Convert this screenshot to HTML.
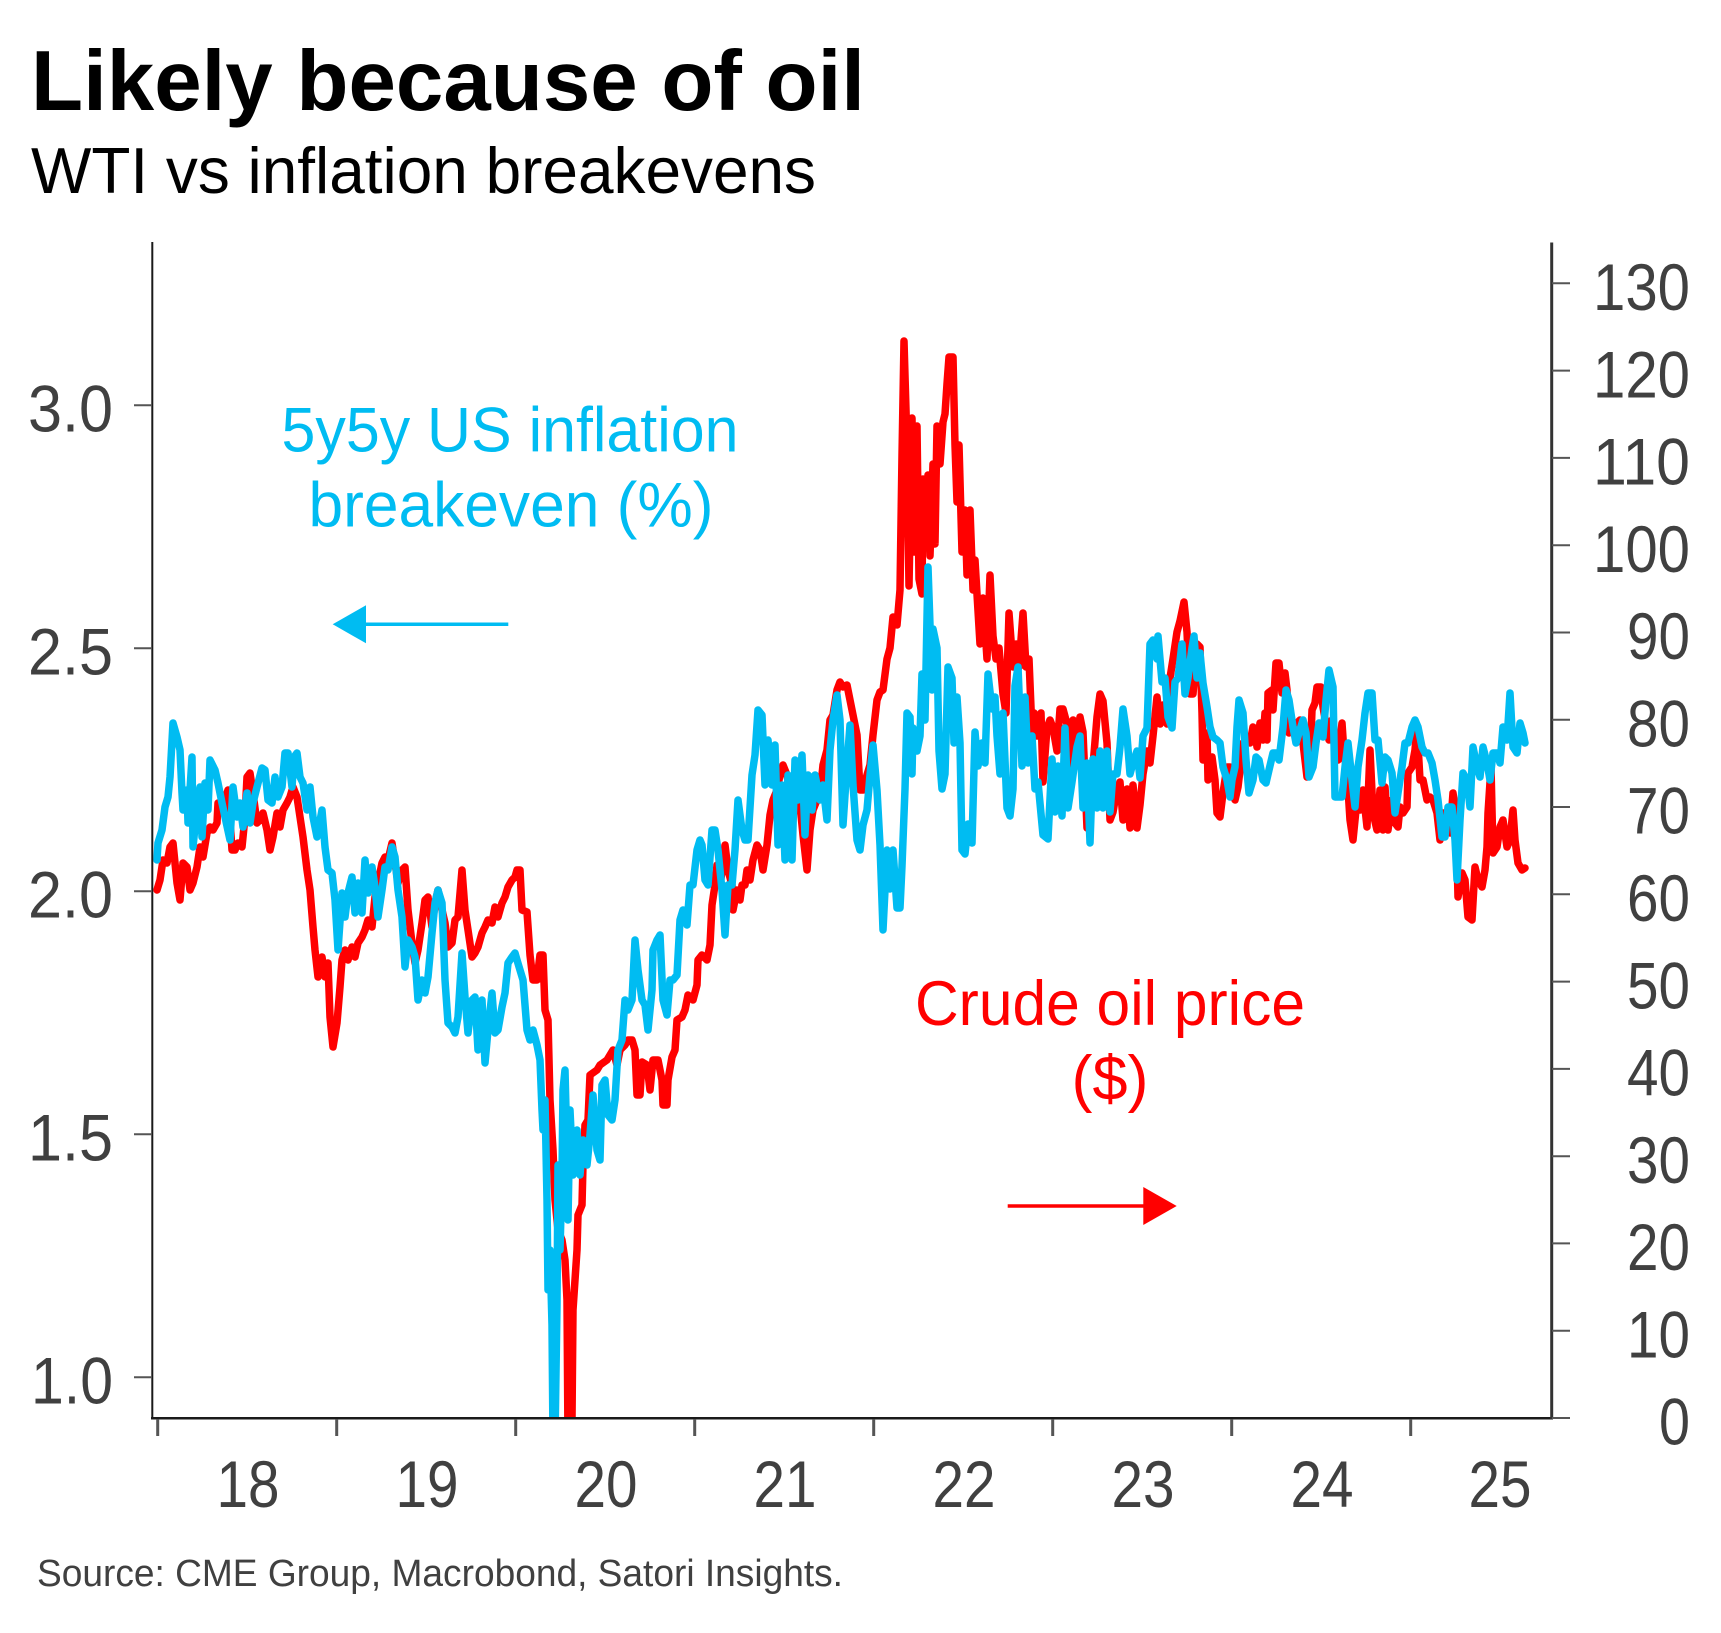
<!DOCTYPE html>
<html>
<head>
<meta charset="utf-8">
<style>
html,body{margin:0;padding:0;background:#fff;}
svg{display:block;}
text{font-family:"Liberation Sans",sans-serif;}
</style>
</head>
<body>
<svg width="1721" height="1633" viewBox="0 0 1721 1633" xmlns="http://www.w3.org/2000/svg">
<rect x="0" y="0" width="1721" height="1633" fill="#fff"/>
<defs>
<clipPath id="plot"><rect x="152" y="242" width="1400" height="1176"/></clipPath>
</defs>

<!-- Titles -->
<text x="31" y="110" font-size="85" font-weight="bold" fill="#000" textLength="834" lengthAdjust="spacingAndGlyphs">Likely because of oil</text>
<text x="31" y="193" font-size="65" fill="#000" textLength="785" lengthAdjust="spacingAndGlyphs">WTI vs inflation breakevens</text>

<!-- Series -->
<g clip-path="url(#plot)" fill="none" stroke-width="7.5" stroke-linejoin="round" stroke-linecap="round">
<polyline stroke="#FF0000" points="157,890 160,880 163,860 167,863 170,847 173,843 177,883 180,900 183,863 187,867 190,890 193,883 197,867 200,847 203,857 207,833 210,827 213,830 217,823 218,803 222,807 225,800 228,790 232,850 235,850 238,843 242,847 245,817 247,777 250,773 253,793 257,823 260,820 263,813 267,830 270,850 273,837 277,813 280,827 283,810 287,803 290,797 293,787 297,797 300,817 303,837 307,870 310,890 313,927 315,950 318,977 322,957 325,977 328,963 330,1017 333,1047 337,1023 340,987 342,960 345,950 348,960 352,947 355,957 358,943 362,937 365,930 368,920 372,927 375,897 378,883 382,863 385,857 388,860 392,843 395,863 398,883 402,870 405,867 408,910 412,943 415,963 418,950 422,923 425,900 428,897 432,927 435,903 438,890 442,910 445,923 448,947 452,943 455,920 458,917 462,870 465,910 468,930 472,957 475,953 478,947 482,933 485,927 488,920 492,923 495,907 498,917 502,903 505,897 508,887 512,880 515,877 517,870 520,870 522,910 527,912 530,955 533,980 537,980 540,955 543,955 545,1010 548,1020 550,1100 553,1150 555,1200 558,1230 562,1240 565,1260 567,1300 568,1440 571,1440 572,1420 573,1310 577,1250 578,1215 582,1205 583,1165 585,1125 588,1120 590,1075 597,1070 600,1065 607,1060 613,1050 617,1065 620,1050 625,1045 628,1040 632,1040 635,1050 637,1095 640,1095 642,1062 647,1065 650,1090 653,1060 658,1060 662,1080 663,1105 667,1105 668,1080 672,1057 675,1050 677,1020 682,1017 685,1010 688,995 693,1000 697,985 698,960 702,955 707,960 710,945 712,905 715,885 717,865 720,885 723,865 725,845 728,870 732,885 733,910 737,890 740,900 742,885 745,885 747,870 750,880 753,860 757,845 760,850 763,870 767,845 770,815 773,800 777,790 780,775 783,765 787,775 790,795 793,815 797,800 800,805 803,835 807,870 810,830 813,810 817,800 820,795 823,765 827,750 830,720 833,715 837,690 840,682 843,687 847,685 850,700 853,715 857,735 860,790 863,790 867,775 870,765 873,735 877,700 880,692 883,690 887,659 890,648 893,617 897,625 900,590 902,456 904,341 907,445 909,586 912,418 914,552 917,426 919,579 922,594 923,479 926,540 928,475 930,556 933,464 935,544 937,426 940,464 943,422 945,414 947,384 949,357 953,357 955,445 957,502 959,445 962,552 965,510 967,575 970,510 973,590 975,560 977,594 980,644 983,598 987,659 990,575 993,636 996,659 999,648 1003,694 1006,713 1009,613 1013,667 1016,644 1019,667 1023,613 1026,667 1029,659 1032,732 1034,713 1037,736 1041,713 1043,782 1047,728 1050,720 1053,728 1057,751 1060,709 1063,709 1067,724 1070,774 1073,720 1077,743 1080,717 1083,732 1087,828 1090,801 1093,766 1097,717 1100,694 1103,701 1107,743 1110,820 1113,812 1117,789 1120,782 1123,820 1127,789 1130,828 1133,785 1137,828 1140,805 1143,774 1147,751 1150,763 1153,736 1157,697 1160,724 1163,705 1167,724 1170,678 1173,659 1177,632 1180,621 1184,602 1187,632 1190,694 1193,694 1197,644 1200,647 1202,713 1203,760 1207,733 1208,780 1212,757 1215,780 1217,813 1220,817 1223,793 1227,767 1230,767 1232,787 1235,800 1238,787 1240,770 1243,743 1247,740 1250,743 1253,727 1255,730 1257,747 1260,723 1263,740 1265,713 1267,740 1268,693 1272,690 1273,710 1276,663 1279,663 1282,693 1285,673 1287,690 1289,733 1293,723 1297,723 1300,720 1303,743 1307,777 1310,763 1312,710 1315,703 1317,687 1321,687 1323,707 1327,730 1329,740 1332,720 1335,753 1338,760 1342,723 1344,753 1347,773 1350,820 1353,840 1357,800 1360,810 1363,790 1367,827 1370,750 1373,813 1377,830 1380,790 1383,830 1385,787 1388,830 1392,800 1395,823 1398,827 1400,807 1403,813 1407,807 1408,773 1412,767 1415,750 1417,727 1420,780 1423,780 1427,800 1430,797 1433,800 1437,813 1440,840 1443,813 1447,813 1450,833 1453,793 1456,813 1458,897 1462,873 1465,880 1468,917 1472,920 1475,867 1478,880 1482,887 1485,870 1487,847 1488,813 1491,767 1493,853 1497,847 1500,827 1503,820 1507,847 1510,840 1513,810 1515,840 1518,863 1522,870 1525,868"/>
<polyline stroke="#00BCF2" points="157,860 158,843 162,830 165,807 168,797 170,777 173,723 177,737 180,750 182,793 183,810 187,790 188,823 192,757 193,847 197,807 200,787 202,837 205,783 208,810 210,760 215,770 218,783 222,803 225,817 230,840 233,787 237,817 240,803 243,827 247,793 250,823 253,803 257,787 262,768 265,770 268,800 272,803 275,777 278,797 282,787 285,753 288,753 292,787 294,757 297,753 300,777 303,783 307,810 310,787 313,817 317,837 322,810 325,847 328,870 332,873 335,900 338,950 342,893 345,917 348,893 352,877 355,913 358,883 362,913 365,860 368,893 372,867 375,887 378,917 382,890 385,867 388,870 392,847 395,857 398,890 402,917 405,967 408,940 412,947 415,957 418,1000 422,980 425,993 428,977 432,933 435,903 438,890 442,903 445,980 448,1023 452,1027 455,1033 458,1017 462,953 465,997 468,1033 472,1000 475,997 478,1050 482,1000 485,1063 488,1030 492,993 495,1033 498,1030 502,1007 505,993 508,963 512,957 515,953 517,960 520,970 523,980 527,1030 530,1040 533,1030 537,1045 540,1060 542,1110 543,1130 545,1100 547,1200 548,1290 550,1250 552,1325 553,1440 555,1440 557,1305 558,1165 560,1250 562,1175 563,1090 565,1070 567,1150 568,1220 570,1110 573,1175 577,1130 580,1175 583,1140 587,1165 590,1135 593,1095 597,1150 600,1160 602,1085 605,1080 608,1115 612,1120 615,1100 618,1050 622,1040 625,1000 628,1010 632,1000 635,940 638,970 642,1000 645,1005 648,1030 652,990 653,950 657,940 660,935 663,1000 667,1015 670,980 673,980 677,975 680,920 683,910 687,925 690,885 693,885 697,850 700,840 702,845 705,880 708,885 712,830 715,830 718,850 722,890 725,935 728,885 732,885 735,850 738,800 742,830 745,840 748,840 752,775 755,755 758,710 762,715 765,785 768,740 772,785 775,745 778,845 782,785 785,860 788,775 792,860 795,760 798,800 802,755 805,835 808,775 812,810 815,775 820,800 823,785 827,820 830,750 833,720 837,695 840,720 843,825 847,765 850,725 853,785 857,840 860,850 863,825 867,810 870,775 873,745 877,790 880,845 883,930 887,850 890,889 893,850 897,908 900,908 902,866 905,789 907,713 910,717 912,774 913,728 917,751 920,736 922,674 925,720 928,567 930,625 932,690 933,629 937,648 939,751 942,789 945,774 948,667 952,678 954,743 957,697 960,743 962,850 965,854 968,824 972,843 975,732 978,766 982,743 985,763 988,674 992,709 995,697 997,736 1000,774 1003,713 1007,808 1010,816 1013,789 1015,686 1018,667 1022,766 1025,697 1028,763 1032,736 1035,789 1038,782 1043,835 1048,839 1052,759 1055,812 1058,766 1062,816 1065,728 1068,808 1072,782 1077,747 1080,736 1083,808 1087,763 1090,843 1093,759 1097,808 1100,751 1103,808 1107,751 1110,812 1113,774 1117,774 1120,747 1123,709 1127,736 1130,774 1133,763 1137,751 1140,778 1143,736 1147,728 1150,644 1153,640 1157,659 1158,636 1162,682 1165,678 1168,717 1172,728 1175,682 1178,678 1182,644 1185,694 1188,678 1192,648 1194,636 1197,678 1200,653 1203,683 1207,707 1210,727 1213,737 1217,740 1220,743 1223,767 1227,780 1230,797 1232,780 1235,767 1237,727 1239,700 1243,713 1246,760 1249,793 1253,780 1256,757 1259,760 1263,780 1266,783 1269,770 1273,753 1276,753 1279,760 1283,727 1286,690 1289,700 1293,727 1296,743 1299,733 1303,720 1306,733 1309,777 1313,767 1316,743 1319,723 1323,737 1326,700 1329,670 1333,687 1335,797 1338,797 1342,797 1345,767 1348,743 1352,780 1355,807 1358,767 1362,740 1365,713 1368,693 1372,693 1375,740 1378,740 1382,783 1385,757 1388,760 1392,773 1395,813 1398,793 1402,767 1405,743 1408,743 1412,727 1415,720 1418,727 1422,747 1425,753 1428,753 1432,763 1435,780 1438,800 1442,837 1445,837 1448,807 1452,807 1455,840 1457,880 1460,820 1463,773 1467,780 1470,807 1473,747 1477,767 1480,777 1483,747 1487,763 1490,780 1493,753 1497,753 1500,763 1503,727 1507,740 1510,693 1513,747 1517,753 1520,723 1523,733 1525,743"/>
</g>

<!-- Axes -->
<line x1="152.3" y1="242" x2="152.3" y2="1419" stroke="#1a1a1a" stroke-width="2"/>
<line x1="151" y1="1418.3" x2="1553" y2="1418.3" stroke="#1a1a1a" stroke-width="2.5"/>
<line x1="1551.7" y1="242.5" x2="1551.7" y2="1419" stroke="#333" stroke-width="3"/>

<!-- Left ticks -->
<g stroke="#555" stroke-width="2">
<line x1="134" y1="405.3" x2="152" y2="405.3"/>
<line x1="134" y1="648.3" x2="152" y2="648.3"/>
<line x1="134" y1="891.3" x2="152" y2="891.3"/>
<line x1="134" y1="1134.3" x2="152" y2="1134.3"/>
<line x1="134" y1="1377.3" x2="152" y2="1377.3"/>
</g>
<g fill="#404040" font-size="66" text-anchor="end">
<text x="113" y="431.7" textLength="85" lengthAdjust="spacingAndGlyphs">3.0</text>
<text x="113" y="674.7" textLength="85" lengthAdjust="spacingAndGlyphs">2.5</text>
<text x="113" y="917.7" textLength="85" lengthAdjust="spacingAndGlyphs">2.0</text>
<text x="113" y="1160.7" textLength="85" lengthAdjust="spacingAndGlyphs">1.5</text>
<text x="113" y="1403.7" textLength="82" lengthAdjust="spacingAndGlyphs">1.0</text>
</g>

<!-- Right ticks -->
<g stroke="#555" stroke-width="2">
<line x1="1552" y1="1418" x2="1570" y2="1418"/>
<line x1="1552" y1="1330.7" x2="1570" y2="1330.7"/>
<line x1="1552" y1="1243.4" x2="1570" y2="1243.4"/>
<line x1="1552" y1="1156.2" x2="1570" y2="1156.2"/>
<line x1="1552" y1="1068.9" x2="1570" y2="1068.9"/>
<line x1="1552" y1="981.6" x2="1570" y2="981.6"/>
<line x1="1552" y1="894.3" x2="1570" y2="894.3"/>
<line x1="1552" y1="807.0" x2="1570" y2="807.0"/>
<line x1="1552" y1="719.8" x2="1570" y2="719.8"/>
<line x1="1552" y1="632.5" x2="1570" y2="632.5"/>
<line x1="1552" y1="545.2" x2="1570" y2="545.2"/>
<line x1="1552" y1="457.9" x2="1570" y2="457.9"/>
<line x1="1552" y1="370.6" x2="1570" y2="370.6"/>
<line x1="1552" y1="283.3" x2="1570" y2="283.3"/>
</g>
<g fill="#404040" font-size="66" text-anchor="end">
<text x="1690" y="1444.7" textLength="31" lengthAdjust="spacingAndGlyphs">0</text>
<text x="1690" y="1357.4" textLength="63" lengthAdjust="spacingAndGlyphs">10</text>
<text x="1690" y="1270.1" textLength="63" lengthAdjust="spacingAndGlyphs">20</text>
<text x="1690" y="1182.9" textLength="63" lengthAdjust="spacingAndGlyphs">30</text>
<text x="1690" y="1095.6" textLength="63" lengthAdjust="spacingAndGlyphs">40</text>
<text x="1690" y="1008.3" textLength="63" lengthAdjust="spacingAndGlyphs">50</text>
<text x="1690" y="921.0" textLength="63" lengthAdjust="spacingAndGlyphs">60</text>
<text x="1690" y="833.7" textLength="63" lengthAdjust="spacingAndGlyphs">70</text>
<text x="1690" y="746.5" textLength="63" lengthAdjust="spacingAndGlyphs">80</text>
<text x="1690" y="659.2" textLength="63" lengthAdjust="spacingAndGlyphs">90</text>
<text x="1690" y="571.9" textLength="97" lengthAdjust="spacingAndGlyphs">100</text>
<text x="1690" y="484.6" textLength="97" lengthAdjust="spacingAndGlyphs">110</text>
<text x="1690" y="397.3" textLength="97" lengthAdjust="spacingAndGlyphs">120</text>
<text x="1690" y="310.0" textLength="97" lengthAdjust="spacingAndGlyphs">130</text>
</g>

<!-- Bottom ticks -->
<g stroke="#555" stroke-width="3">
<line x1="157.7" y1="1419" x2="157.7" y2="1436"/>
<line x1="336.7" y1="1419" x2="336.7" y2="1436"/>
<line x1="515.7" y1="1419" x2="515.7" y2="1436"/>
<line x1="694.7" y1="1419" x2="694.7" y2="1436"/>
<line x1="873.7" y1="1419" x2="873.7" y2="1436"/>
<line x1="1052.7" y1="1419" x2="1052.7" y2="1436"/>
<line x1="1231.7" y1="1419" x2="1231.7" y2="1436"/>
<line x1="1410.7" y1="1419" x2="1410.7" y2="1436"/>
</g>
<g fill="#404040" font-size="66" text-anchor="middle">
<text x="248" y="1507" textLength="63" lengthAdjust="spacingAndGlyphs">18</text>
<text x="427" y="1507" textLength="63" lengthAdjust="spacingAndGlyphs">19</text>
<text x="606" y="1507" textLength="63" lengthAdjust="spacingAndGlyphs">20</text>
<text x="785" y="1507" textLength="63" lengthAdjust="spacingAndGlyphs">21</text>
<text x="964" y="1507" textLength="63" lengthAdjust="spacingAndGlyphs">22</text>
<text x="1143" y="1507" textLength="63" lengthAdjust="spacingAndGlyphs">23</text>
<text x="1322" y="1507" textLength="63" lengthAdjust="spacingAndGlyphs">24</text>
<text x="1500" y="1507" textLength="63" lengthAdjust="spacingAndGlyphs">25</text>
</g>

<!-- Annotations -->
<g fill="#00BCF2" font-size="63" text-anchor="middle">
<text x="510" y="451.7" textLength="457" lengthAdjust="spacingAndGlyphs">5y5y US inflation</text>
<text x="511" y="526.7" textLength="405" lengthAdjust="spacingAndGlyphs">breakeven (%)</text>
</g>
<line x1="508.3" y1="624.3" x2="364" y2="624.3" stroke="#00BCF2" stroke-width="3.5"/>
<polygon points="332.7,624.3 366,605.3 366,643.3" fill="#00BCF2"/>

<g fill="#FF0000" font-size="63" text-anchor="middle">
<text x="1110" y="1025" textLength="390" lengthAdjust="spacingAndGlyphs">Crude oil price</text>
<text x="1110" y="1100" textLength="77" lengthAdjust="spacingAndGlyphs">($)</text>
</g>
<line x1="1007.7" y1="1206" x2="1145" y2="1206" stroke="#FF0000" stroke-width="3.5"/>
<polygon points="1176.7,1206 1143.3,1187 1143.3,1225" fill="#FF0000"/>

<!-- Source -->
<text x="37" y="1586" font-size="38" fill="#404040" textLength="806" lengthAdjust="spacingAndGlyphs">Source: CME Group, Macrobond, Satori Insights.</text>
</svg>
</body>
</html>
